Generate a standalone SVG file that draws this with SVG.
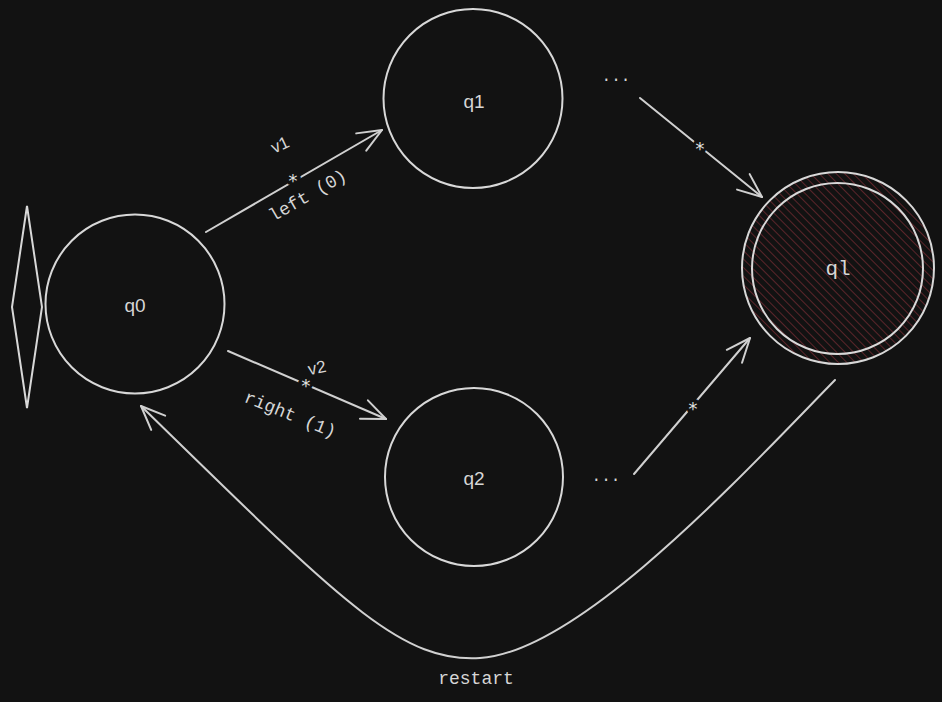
<svg xmlns="http://www.w3.org/2000/svg" width="942" height="702" viewBox="0 0 942 702">
<defs>
<style>
.node{fill:none;stroke:#d8d8d8;stroke-width:2}
.edge{fill:none;stroke:#d0d0d0;stroke-width:2;stroke-linecap:round}
.lbl{font-family:"Liberation Mono","DejaVu Sans Mono",monospace;fill:#d6d6d6;font-size:18px;text-anchor:middle;dominant-baseline:central}
.hand{font-family:"Liberation Sans","DejaVu Sans",sans-serif;fill:#d6d6d6;font-size:19px;text-anchor:middle;dominant-baseline:central}
.star{font-family:"DejaVu Sans Mono",monospace;fill:#e0e0e0;font-size:18px;text-anchor:middle;dominant-baseline:central;stroke:#121212;stroke-width:6;paint-order:stroke}
</style>
<marker id="ah" markerUnits="userSpaceOnUse" markerWidth="40" markerHeight="40" refX="0" refY="0" viewBox="-30 -20 40 40" orient="auto" overflow="visible">
<path d="M-24,-10 L0,0 L-24,10" fill="none" stroke="#d0d0d0" stroke-width="2" stroke-linecap="round" stroke-linejoin="round"/>
</marker>
<pattern id="hatch" patternUnits="userSpaceOnUse" width="6" height="6" patternTransform="rotate(-45)">
<rect width="6" height="6" fill="#121212"/>
<line x1="0" y1="0" x2="0" y2="6" stroke="#6e2a30" stroke-width="1.6"/>
</pattern>
</defs>
<rect width="942" height="702" fill="#121212"/>

<g id="start-diamond">
<path class="node" d="M27,206 L42,307 L27,408 L12,307 Z"/>
</g>
<g id="q0">
<circle class="node" cx="135" cy="304" r="89.5"/>
<text class="hand" x="135" y="305">q0</text>
</g>
<g id="q1">
<circle class="node" cx="473" cy="98.5" r="89.5"/>
<text class="hand" x="474" y="101">q1</text>
</g>
<g id="q2">
<circle class="node" cx="474" cy="477" r="89"/>
<text class="hand" x="474" y="478">q2</text>
</g>
<g id="ql">
<circle cx="838" cy="268" r="96" fill="url(#hatch)" stroke="#d8d8d8" stroke-width="2"/>
<circle class="node" cx="837.5" cy="268.5" r="85.5"/>
<text class="lbl" x="838" y="269" style="font-size:21px">ql</text>
</g>
<g id="dots-top"><text class="lbl" x="616" y="77" style="font-size:16px">...</text></g>
<g id="dots-bottom"><text class="lbl" x="606" y="477" style="font-size:16px">...</text></g>

<g id="connectors">
<path class="edge" d="M206,232 L382,130" marker-end="url(#ah)"/>
<path class="edge" d="M228,351 L386,419" marker-end="url(#ah)"/>
<path class="edge" d="M640,98 L762,197" marker-end="url(#ah)"/>
<path class="edge" d="M634,474 L750,338" marker-end="url(#ah)"/>
<path class="edge" d="M835,380 C745,472 580,652 480,658 C400,663 340,600 141,406" marker-end="url(#ah)"/>
<text class="star" x="293" y="180">*</text>
<text class="star" x="306" y="385">*</text>
<text class="star" x="700" y="148">*</text>
<text class="star" x="693" y="408">*</text>
<text class="hand" x="280" y="145" transform="rotate(-25 280 145)" style="font-size:17px">v1</text>
<text class="lbl" x="308" y="196" transform="rotate(-30 308 196)">left (0)</text>
<text class="hand" x="317" y="368" transform="rotate(-12 317 368)" style="font-size:17px">v2</text>
<text class="lbl" x="290" y="415" transform="rotate(22 290 415)">right (1)</text>
<text class="lbl" x="476" y="679">restart</text>
</g>
</svg>
